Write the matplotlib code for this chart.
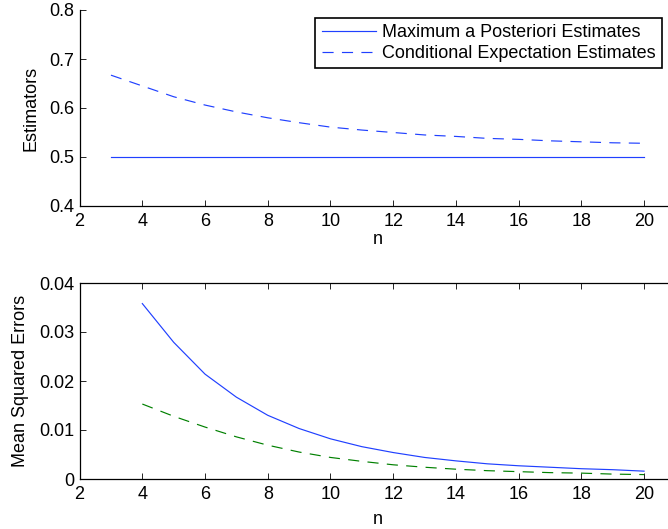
import matplotlib
matplotlib.use("Agg")
import matplotlib.pyplot as plt

plt.rcParams["font.family"] = ["Liberation Sans", "DejaVu Sans"]
plt.rcParams["lines.scale_dashes"] = False

# Data
n_est = [3, 4, 5, 6, 7, 8, 9, 10, 11, 12, 13, 14, 15, 16, 17, 18, 19, 20]
map_est = [0.5] * len(n_est)
cond_est = [0.667, 0.645, 0.623, 0.606, 0.592, 0.580, 0.570, 0.561, 0.555,
            0.550, 0.545, 0.542, 0.538, 0.536, 0.533, 0.531, 0.529, 0.528]

n_mse = [4, 5, 6, 7, 8, 9, 10, 11, 12, 13, 14, 15, 16, 17, 18, 19, 20]
map_mse = [0.0358, 0.0279, 0.0214, 0.0167, 0.0130, 0.0103, 0.0082, 0.0066, 0.0054,
           0.0044, 0.0037, 0.0031, 0.0027, 0.0024, 0.0021, 0.0019, 0.0016]
cond_mse = [0.0153, 0.0128, 0.0106, 0.0086, 0.0069, 0.0055, 0.0044, 0.0036, 0.0029,
            0.0024, 0.0020, 0.0017, 0.0015, 0.0013, 0.0012, 0.0010, 0.0009]

FS = 13
DASH = (8, 6)
BLUE = "#2040ff"

fig = plt.figure(figsize=(6.68, 5.29), dpi=100)
left = 79.6 / 668
width = 19 * 31.36 / 668
ax1 = fig.add_axes([left, 1 - 206 / 529, width, 196 / 529])
ax2 = fig.add_axes([left, 1 - 479 / 529, width, 196 / 529])

# ---- top panel: estimators ----
ax1.plot(n_est, map_est, color=BLUE, lw=0.85, label="Maximum a Posteriori Estimates")
ax1.plot(n_est, cond_est, color=BLUE, lw=0.85, dashes=DASH,
         label="Conditional Expectation Estimates")
ax1.set_xlim(2, 21)
ax1.set_ylim(0.4, 0.8)
ax1.set_xticks(range(2, 21, 2))
ax1.set_yticks([0.4, 0.5, 0.6, 0.7, 0.8])
ax1.spines["top"].set_visible(False)
ax1.spines["right"].set_visible(False)
ax1.set_ylabel("Estimators", fontsize=FS)
ax1.set_xlabel("n", fontsize=FS)
ax1.yaxis.set_label_coords(-0.0665, 0.5)
ax1.xaxis.set_label_coords(0.5, -0.13)
leg = ax1.legend(loc="upper right", bbox_to_anchor=(0.9775, 0.959), borderaxespad=0,
                 fontsize=FS, fancybox=False, framealpha=1, edgecolor="black",
                 handlelength=3.0, handletextpad=0.35, labelspacing=0.2, borderpad=0.35)
leg.get_frame().set_linewidth(1.2)

# ---- bottom panel: mean squared errors ----
ax2.plot(n_mse, map_mse, color=BLUE, lw=0.85)
ax2.plot(n_mse, cond_mse, color="#008000", lw=0.85, dashes=DASH)
ax2.set_xlim(2, 21)
ax2.set_ylim(0, 0.04)
ax2.set_xticks(range(2, 21, 2))
ax2.set_yticks([0, 0.01, 0.02, 0.03, 0.04])
ax2.set_yticklabels(["0", "0.01", "0.02", "0.03", "0.04"])
ax2.set_ylabel("Mean Squared Errors", fontsize=FS)
ax2.set_xlabel("n", fontsize=FS)
ax2.yaxis.set_label_coords(-0.085, 0.5)
ax2.xaxis.set_label_coords(0.5, -0.165)

for ax in (ax1, ax2):
    for s in ax.spines.values():
        s.set_linewidth(0.9)
        s.set_color("black")
    ax.tick_params(direction="in", length=4, width=0.6, labelsize=FS, pad=4)
    ax.tick_params(axis="x", pad=5)
ax2.tick_params(top=True, right=True)

fig.savefig("out.png", dpi=100, facecolor="white")
